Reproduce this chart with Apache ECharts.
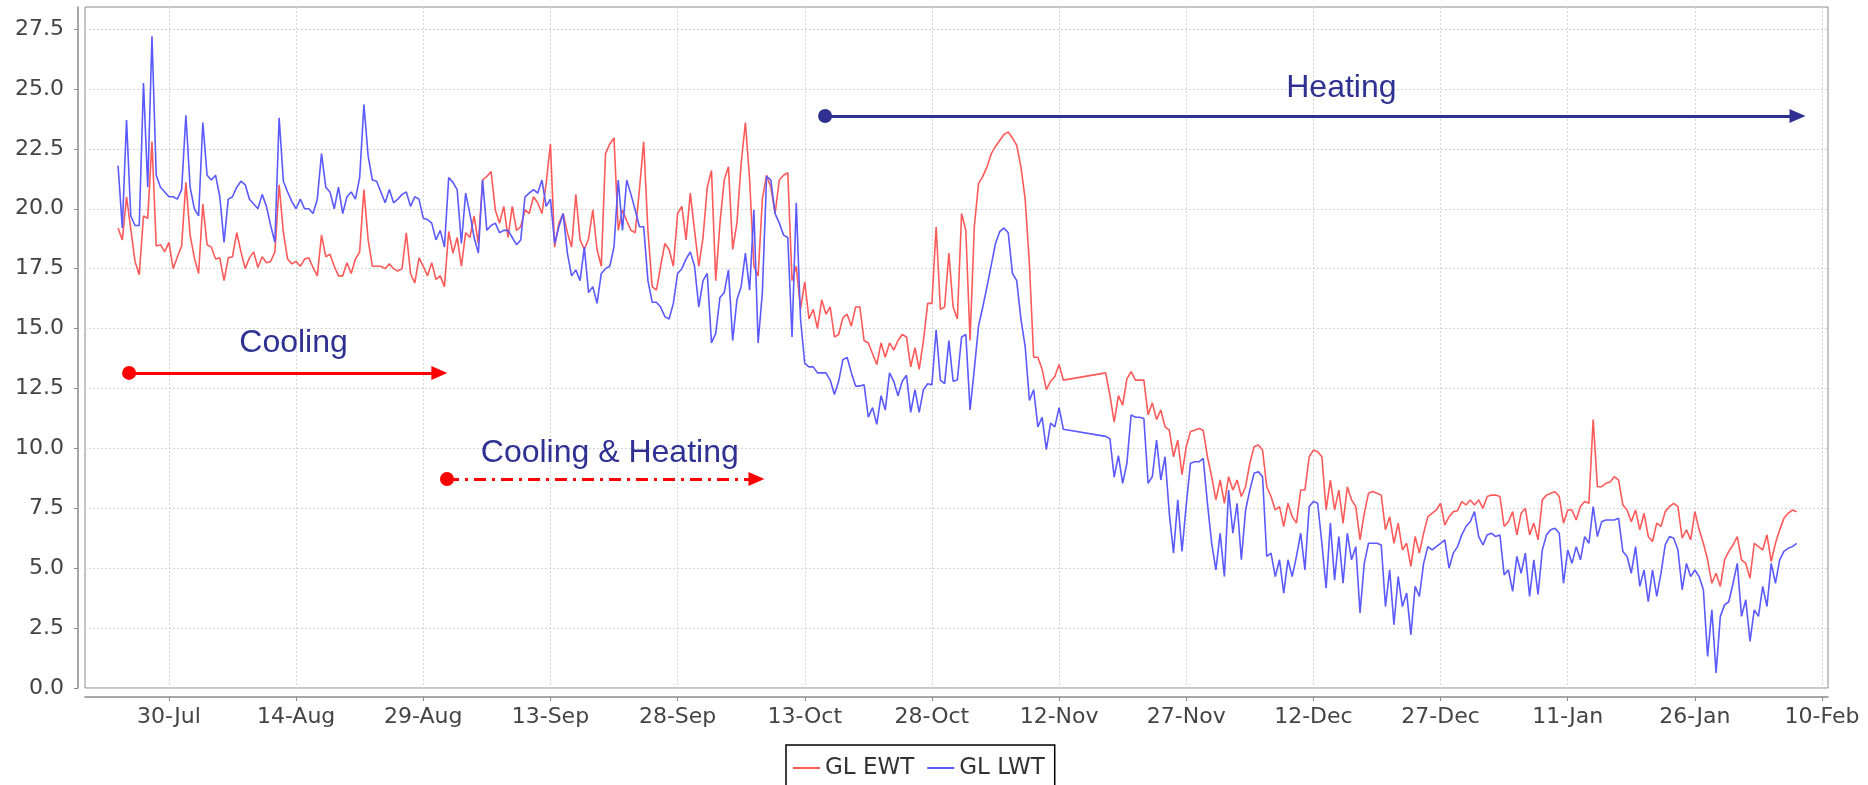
<!DOCTYPE html>
<html>
<head>
<meta charset="utf-8">
<script src="https://cdn.jsdelivr.net/npm/echarts@6/dist/echarts.min.js"></script>
<style>
  html, body { margin: 0; padding: 0; background: #ffffff; }
  #chart { width: 1868px; height: 785px; }
</style>
</head>
<body>
<div id="chart"></div>
<script>
// ---- data (half-day samples, t = days since 30-Jul, starting at t = -6) ----
const START_T = -6;
const STEP = 0.5;

// GL EWT (entering water temperature)
const ewt = [
  19.2, 18.7, 20.5, 19.15, 17.8, 17.25, 19.7, 19.6, 22.8, 18.45, 18.5, 18.2,
  18.6, 17.5, 18.0, 18.45, 21.1, 18.9, 17.95, 17.3, 20.2, 18.5,
  18.4, 17.9, 17.95, 17.0, 17.95, 18.0, 19.0, 18.2, 17.5, 17.95,
  18.2, 17.55, 18.0, 17.75, 17.8, 18.2, 21.0, 19.0, 17.9, 17.7,
  17.8, 17.6, 17.9, 17.95, 17.55, 17.2, 18.9, 18.0, 18.1, 17.6,
  17.2, 17.2, 17.75, 17.3, 17.9, 18.2, 20.8, 18.7, 17.6, 17.6,
  17.6, 17.5, 17.7, 17.5, 17.4, 17.5, 19.0, 17.3, 16.9, 17.95,
  17.6, 17.2, 17.75, 17.05, 17.2, 16.75, 19.05, 18.15, 18.8, 17.6,
  19.0, 18.8, 19.7, 18.55, 21.2, 21.35, 21.55, 19.95, 19.4, 20.1,
  18.8, 20.1, 19.1, 19.25, 19.95, 19.8, 20.5, 20.25, 19.8, 21.06,
  22.7, 18.4, 19.4, 19.8, 19.0, 18.4, 20.6, 18.7, 18.3, 18.75,
  19.95, 18.3, 17.6, 22.3, 22.7, 22.95, 19.1, 19.95, 19.5, 19.1,
  19.0, 20.8, 22.8, 19.1, 16.75, 16.6, 17.6, 18.55, 18.3, 17.6,
  19.8, 20.1, 18.7, 20.65, 19.1, 17.6, 18.8, 20.9, 21.6, 17.0,
  19.4, 21.2, 21.75, 18.3, 19.4, 21.9, 23.6, 21.2, 17.6, 17.2,
  20.4, 21.4, 20.9, 19.8, 21.2, 21.4, 21.5, 17.0, 17.6, 15.8,
  16.95, 15.4, 15.8, 15.0, 16.2, 15.6, 15.9, 14.65, 14.75, 15.45,
  15.6, 15.1, 15.9, 15.9, 14.5, 14.4, 13.95, 13.5, 14.4, 13.8,
  14.4, 14.1, 14.5, 14.75, 14.65, 13.4, 14.2, 13.3, 14.5, 16.05,
  16.05, 19.25, 15.8, 15.9, 18.15, 15.9, 15.4, 19.8, 19.1, 14.5,
  19.25, 21.05, 21.35, 21.75, 22.3, 22.6, 22.85, 23.1, 23.2, 22.95,
  22.65, 21.75, 20.4, 17.7, 13.8, 13.8, 13.3, 12.45, 12.8, 13.0,
  13.5, 12.85, null, null, null, null, null, null, null, null,
  null, 13.15, 12.2, 11.1, 12.2, 11.8, 12.9, 13.2, 12.85, 12.85,
  12.85, 11.4, 11.9, 11.2, 11.6, 10.9, 10.76, 9.65, 10.35, 8.9,
  10.07, 10.7, 10.76, 10.83, 10.76, 9.65, 8.82, 7.85, 8.68, 7.71,
  8.82, 8.26, 8.68, 7.99, 8.4, 9.38, 10.07, 10.14, 9.93, 8.4,
  7.99, 7.43, 7.57, 6.74, 7.71, 7.15, 6.88, 8.26, 8.26, 9.65,
  9.93, 9.86, 9.65, 7.43, 8.68, 7.43, 8.26, 6.88, 8.4, 7.85,
  7.57, 6.18, 7.29, 8.13, 8.2, 8.13, 8.05, 6.6, 7.15, 6.04,
  6.88, 5.76, 6.04, 5.07, 6.32, 5.63, 6.46, 7.15, 7.29, 7.43,
  7.71, 6.8, 7.15, 7.36, 7.4, 7.78, 7.64, 7.85, 7.64, 7.85,
  7.5, 7.99, 8.05, 8.05, 7.99, 6.74, 6.94, 7.36, 6.39, 7.29,
  7.5, 6.39, 6.88, 6.18, 7.85, 8.05, 8.13, 8.19, 7.99, 6.88,
  7.43, 7.43, 7.01, 7.57, 7.78, 7.71, 11.2, 8.4, 8.4, 8.54,
  8.6, 8.82, 8.68, 7.64, 7.43, 6.94, 7.43, 6.6, 7.29, 6.32,
  6.11, 6.88, 6.74, 7.36, 7.57, 7.71, 7.57, 6.25, 6.6, 6.18,
  7.36, 6.6, 6.04, 5.35, 4.37, 4.79, 4.24, 5.35, 5.7, 5.97,
  6.32, 5.35, 5.2, 4.58, 6.04, 5.9, 5.76, 6.39, 5.28, 6.04,
  6.6, 7.08, 7.29, 7.43, 7.36
];

// GL LWT (leaving water temperature)
const lwt = [
  21.8, 19.2, 23.7, 19.7, 19.3, 19.3, 25.25, 20.9, 27.2, 21.4, 20.9, 20.7,
  20.5, 20.5, 20.4, 20.8, 23.9, 20.9, 20.0, 19.7, 23.6, 21.4,
  21.2, 21.4, 20.5, 18.6, 20.4, 20.5, 20.9, 21.15, 21.0, 20.4,
  20.2, 20.0, 20.6, 20.1, 19.3, 18.6, 23.8, 21.15, 20.7, 20.3,
  20.0, 20.4, 20.0, 20.0, 19.8, 20.4, 22.3, 20.9, 20.7, 20.0,
  20.9, 19.8, 20.5, 20.7, 20.4, 21.3, 24.35, 22.2, 21.2, 21.15,
  20.7, 20.25, 20.8, 20.25, 20.4, 20.6, 20.7, 20.1, 20.5, 20.4,
  19.6, 19.55, 19.4, 18.7, 19.1, 18.4, 21.3, 21.1, 20.8, 18.55,
  20.65, 19.8, 18.8, 18.15, 21.2, 19.1, 19.3, 19.4, 19.0, 19.1,
  19.1, 18.8, 18.5, 18.7, 20.5, 20.65, 20.8, 20.65, 21.2, 20.1,
  20.4, 18.55, 19.25, 19.8, 18.15, 17.2, 17.45, 17.0, 18.4, 16.5,
  16.75, 16.05, 17.3, 17.5, 17.6, 18.4, 21.2, 19.1, 21.2, 20.6,
  19.95, 19.25, 19.25, 17.0, 16.1, 16.1, 15.9, 15.5, 15.4, 16.05,
  17.3, 17.5, 17.9, 18.2, 17.6, 15.9, 17.0, 17.3, 14.4, 14.8,
  16.3, 16.5, 17.45, 14.5, 16.2, 16.75, 18.15, 16.6, 19.95, 14.4,
  16.5, 21.35, 21.2, 19.8, 19.4, 18.9, 18.8, 14.65, 20.25, 15.4,
  13.55, 13.4, 13.4, 13.15, 13.15, 13.15, 12.85, 12.25, 12.8, 13.7,
  13.8, 13.15, 12.6, 12.6, 12.65, 11.3, 11.7, 11.0, 12.2, 11.6,
  13.15, 12.8, 12.2, 12.8, 13.05, 11.5, 12.45, 11.5, 12.45, 12.7,
  12.65, 14.95, 12.85, 12.7, 14.5, 12.8, 12.85, 14.65, 14.75, 11.6,
  13.3, 15.1, 15.9, 16.75, 17.65, 18.55, 19.05, 19.2, 19.0, 17.3,
  17.0, 15.4, 14.25, 12.0, 12.45, 10.9, 11.3, 9.95, 11.05, 10.9,
  11.7, 10.8, null, null, null, null, null, null, null, null,
  null, 10.5, 10.4, 8.8, 9.7, 8.54, 9.38, 11.4, 11.3, 11.3,
  11.25, 8.54, 8.82, 10.35, 8.68, 9.65, 7.29, 5.63, 7.85, 5.7,
  7.64, 9.38, 9.44, 9.44, 9.58, 7.71, 6.04, 4.93, 6.46, 4.65,
  8.26, 6.46, 7.71, 5.35, 7.43, 8.26, 8.96, 9.03, 8.82, 5.49,
  5.63, 4.65, 5.35, 3.96, 5.35, 4.65, 5.49, 6.46, 4.93, 7.57,
  7.78, 7.71, 6.04, 4.17, 6.88, 4.5, 6.32, 4.37, 6.46, 5.35,
  5.9, 3.13, 5.2, 6.04, 6.04, 6.04, 5.97, 3.4, 4.93, 2.64,
  4.65, 3.4, 3.96, 2.22, 4.24, 3.82, 5.2, 5.9, 5.76, 5.9,
  6.04, 6.18, 5.0, 5.63, 5.9, 6.39, 6.74, 6.94, 7.36, 6.32,
  5.97, 6.39, 6.46, 6.32, 6.39, 4.72, 4.93, 4.03, 5.49, 4.79,
  5.63, 3.82, 5.35, 3.9, 5.76, 6.39, 6.6, 6.67, 6.46, 4.37,
  5.76, 5.2, 5.9, 5.35, 6.32, 6.04, 7.57, 6.32, 6.94, 7.01,
  7.01, 7.01, 7.08, 5.7, 5.49, 4.79, 5.9, 4.24, 4.93, 3.6,
  4.93, 3.82, 4.79, 5.97, 6.32, 6.25, 5.76, 4.1, 5.2, 4.65,
  4.93, 4.65, 4.1, 1.32, 3.26, 0.63, 2.99, 3.47, 3.6, 4.37,
  5.2, 2.99, 3.68, 1.94, 3.26, 2.99, 4.24, 3.4, 5.2, 4.37,
  5.35, 5.7, 5.83, 5.9, 6.04
];

// ---- axes ----
const xTickDays   = [0, 15, 30, 45, 60, 75, 90, 105, 120, 135, 150, 165, 180, 195];
const xTickLabels = ['30-Jul', '14-Aug', '29-Aug', '13-Sep', '28-Sep', '13-Oct', '28-Oct',
                     '12-Nov', '27-Nov', '12-Dec', '27-Dec', '11-Jan', '26-Jan', '10-Feb'];
const yTicks = [0, 2.5, 5, 7.5, 10, 12.5, 15, 17.5, 20, 22.5, 25, 27.5];

// ---- annotations (days, value) ----
const cooling     = { text: 'Cooling',           from: [-4.7, 13.15], to: [31.9, 13.15], label: [14.7, 14.4] };
const coolHeat    = { text: 'Cooling & Heating', from: [32.8, 8.72],  to: [69.3, 8.72],  label: [52.0, 9.8] };
const heating     = { text: 'Heating',           from: [77.4, 23.87], to: [192.1, 23.87], label: [138.3, 25.05] };

const toSeries = arr => arr.map((v, i) => [START_T + i * STEP, v]);

const NAVY = '#2E3192';
const TICK_FONT = { fontFamily: 'DejaVu Sans', fontSize: 22, color: '#444444' };

function annotation(a, color, lineType) {
  return {
    type: 'line',
    data: [],
    silent: true,
    animation: false,
    markLine: {
      silent: true,
      animation: false,
      symbol: ['circle', 'triangle'],
      symbolSize: [14, 16],
      label: { show: false },
      lineStyle: { color: color, width: 3, type: lineType },
      itemStyle: { color: color },
      data: [[{ coord: a.from }, { coord: a.to }]]
    },
    markPoint: {
      silent: true,
      animation: false,
      symbol: 'circle',
      symbolSize: 0,
      itemStyle: { color: 'rgba(0,0,0,0)' },
      label: {
        show: true, position: 'inside', formatter: a.text,
        color: NAVY, fontFamily: 'Liberation Sans', fontSize: 32
      },
      data: [{ coord: a.label }]
    }
  };
}

const chart = echarts.init(document.getElementById('chart'), null, { renderer: 'canvas' });
chart.setOption({
  animation: false,
  backgroundColor: '#ffffff',
  grid: {
    left: 85, right: 40, top: 7, bottom: 97,
    show: true, borderColor: '#8a8a8a', borderWidth: 1, backgroundColor: '#ffffff'
  },
  legend: {
    data: ['GL EWT', 'GL LWT'],
    left: 786, top: 745,
    orient: 'horizontal',
    icon: 'rect',
    itemWidth: 27, itemHeight: 2, itemGap: 13,
    padding: [10, 10, 20, 7],
    borderColor: '#000000', borderWidth: 1.5,
    textStyle: { fontFamily: 'DejaVu Sans', fontSize: 23, color: '#333333', lineHeight: 26 }
  },
  xAxis: {
    type: 'value',
    min: -9.9, max: 195.7,
    offset: 9,
    axisLine: { show: true, onZero: false, lineStyle: { color: '#8a8a8a', width: 1.5 } },
    axisTick: { show: true, length: 4, lineStyle: { color: '#8a8a8a' }, customValues: xTickDays },
    axisLabel: Object.assign({
      margin: 9,
      customValues: xTickDays,
      formatter: v => { const i = xTickDays.indexOf(Math.round(v)); return i >= 0 ? xTickLabels[i] : ''; }
    }, TICK_FONT),
    splitLine: { show: true, lineStyle: { color: '#d4d4d4', type: [2, 2], width: 1 } }
  },
  yAxis: {
    type: 'value',
    min: 0, max: 28.42,
    offset: 7,
    axisLine: { show: true, onZero: false, lineStyle: { color: '#8a8a8a', width: 1.5 } },
    axisTick: { show: true, length: 4, lineStyle: { color: '#8a8a8a' }, customValues: yTicks },
    axisLabel: Object.assign({
      margin: 14,
      customValues: yTicks,
      formatter: v => v.toFixed(1)
    }, TICK_FONT),
    splitLine: { show: true, lineStyle: { color: '#d4d4d4', type: [2, 2], width: 1 } }
  },
  series: [
    {
      name: 'GL EWT', type: 'line', data: toSeries(ewt),
      symbol: 'none', connectNulls: true,
      lineStyle: { color: '#FF5A5A', width: 1.6 }, itemStyle: { color: '#FF5A5A' }
    },
    {
      name: 'GL LWT', type: 'line', data: toSeries(lwt),
      symbol: 'none', connectNulls: true,
      lineStyle: { color: '#5A5AFF', width: 1.6 }, itemStyle: { color: '#5A5AFF' }
    },
    annotation(cooling, '#FF0000', 'solid'),
    annotation(coolHeat, '#FF0000', [12, 6, 3, 6]),
    annotation(heating, NAVY, 'solid')
  ]
});
</script>
</body>
</html>
